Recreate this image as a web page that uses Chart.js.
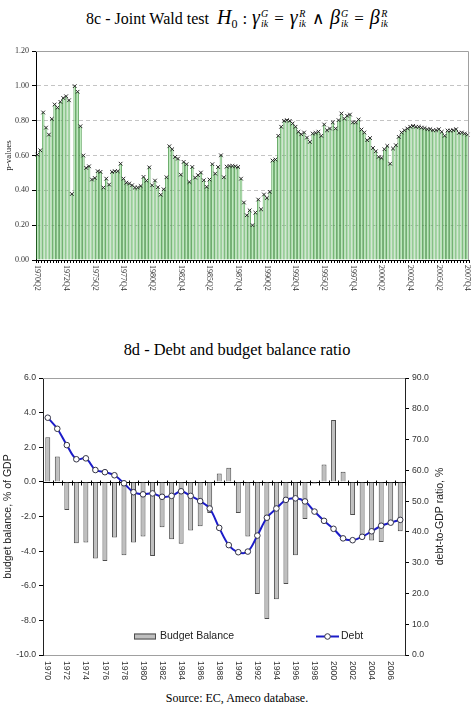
<!DOCTYPE html>
<html>
<head>
<meta charset="utf-8">
<script src="https://cdn.jsdelivr.net/npm/chart.js@4.4.0/dist/chart.umd.min.js"></script>
<style>
  html, body { margin: 0; padding: 0; background: #fff; }
  #page { position: relative; width: 474px; height: 712px; overflow: hidden; }
  canvas { position: absolute; left: 0; }
  .ttl { position: absolute; left: 0; width: 474px; text-align: center; white-space: nowrap;
         font-family: "Liberation Serif", "Times New Roman", serif; color: #000; }
  #t1 { top: 6px; font-size: 16px; line-height: 22px; }
  #t1 .m { font-size: 20px; }
  #t1 .s0 { font-size: 12px; vertical-align: -4px; font-style: normal; }
  #t1 .ss { display: inline-flex; flex-direction: column; font-size: 10px; line-height: 10px;
            vertical-align: 7px; font-style: italic; margin-left: 1px; }
  #t1 .op { font-size: 17px; padding: 0 6px; }
  #t1 .col { font-size: 17px; padding: 0 5px; }
  #t2 { top: 342px; font-size: 16.4px; line-height: 16px; }
  #src { top: 692px; font-size: 12px; line-height: 12px; }
</style>
</head>
<body>
<div id="page">
  <div id="t1" class="ttl">8c - Joint Wald test&nbsp; <span class="m"><i>H</i><span class="s0">0</span><span class="col">:</span><i>γ</i><span class="ss"><span>G</span><span>ik</span></span><span class="op">=</span><i>γ</i><span class="ss"><span>R</span><span>ik</span></span><span class="op">∧</span><i>β</i><span class="ss"><span>G</span><span>ik</span></span><span class="op">=</span><i>β</i><span class="ss"><span>R</span><span>ik</span></span></span></div>
  <canvas id="waldChart" width="474" height="310" style="top:0"></canvas>
  <div id="t2" class="ttl">8d - Debt and budget balance ratio</div>
  <canvas id="debtChart" width="474" height="325" style="top:365px"></canvas>
  <div id="src" class="ttl">Source: EC, Ameco database.</div>
</div>

<script>
// ---- 8c: p-values of the joint Wald test, quarterly 1970Q2 .. 2007Q4
const pValues = [
  0.605, 0.63, 0.847, 0.76, 0.72, 0.81, 0.893, 0.875, 0.908, 0.93,
  0.94, 0.917, 0.379, 0.998, 0.966, 0.768, 0.60, 0.529, 0.538, 0.462,
  0.471, 0.51, 0.506, 0.416, 0.467, 0.433, 0.506, 0.51, 0.51, 0.553,
  0.467, 0.444, 0.439, 0.429, 0.416, 0.416, 0.425, 0.477, 0.456, 0.532,
  0.429, 0.456, 0.418, 0.375, 0.406, 0.475, 0.653, 0.636, 0.592, 0.582,
  0.49, 0.563, 0.55, 0.448, 0.534, 0.473, 0.487, 0.502, 0.458, 0.42,
  0.462, 0.55, 0.496, 0.534, 0.601, 0.475, 0.536, 0.54, 0.54, 0.538,
  0.534, 0.467, 0.33, 0.257, 0.285, 0.20, 0.272, 0.347, 0.291, 0.376,
  0.356, 0.391, 0.571, 0.577, 0.713, 0.765, 0.799, 0.803, 0.799, 0.784,
  0.765, 0.736, 0.722, 0.732, 0.703, 0.678, 0.726, 0.73, 0.737, 0.713,
  0.778, 0.745, 0.755, 0.79, 0.755, 0.803, 0.841, 0.812, 0.828, 0.835,
  0.79, 0.79, 0.807, 0.749, 0.732, 0.688, 0.70, 0.643, 0.624, 0.592,
  0.586, 0.636, 0.655, 0.553, 0.64, 0.659, 0.707, 0.732, 0.745, 0.755,
  0.765, 0.77, 0.765, 0.765, 0.76, 0.757, 0.751, 0.751, 0.745, 0.745,
  0.751, 0.736, 0.713, 0.743, 0.743, 0.745, 0.751, 0.73, 0.732, 0.726,
  0.72
];
const firstYear = 1970;
const firstQuarter = 2;
const quarterLabels = [];
for (let i = 0; i < pValues.length; i++) {
  const q = firstQuarter - 1 + i;
  quarterLabels.push((firstYear + Math.floor(q / 4)) + 'Q' + (q % 4 + 1));
}
const quarterLabelStep = 10;

// ---- 8d: budget balance (% of GDP) and debt-to-GDP ratio (%)
const years = ['1970', '1971', '1972', '1973', '1974', '1975', '1976', '1977', '1978', '1979',
  '1980', '1981', '1982', '1983', '1984', '1985', '1986', '1987', '1988', '1989',
  '1990', '1991', '1992', '1993', '1994', '1995', '1996', '1997', '1998', '1999',
  '2000', '2001', '2002', '2003', '2004', '2005', '2006', '2007'];
const budgetBalance = [2.58, 1.46, -1.62, -3.55, -3.5, -4.43, -4.57, -3.22, -4.24, -3.5,
  -3.16, -4.28, -2.62, -3.31, -3.58, -2.81, -2.56, -1.8, 0.48, 0.81,
  -1.8, -3.15, -6.48, -7.92, -6.78, -5.9, -4.24, -2.14, -0.1, 1.0,
  3.58, 0.58, -1.91, -3.31, -3.39, -3.47, -2.5, -2.85];
const debtRatio = [77.1, 73.5, 68.2, 63.6, 63.9, 60.1, 59.4, 58.4, 55.8, 52.9,
  52.2, 52.5, 51.4, 51.7, 53.2, 51.7, 50.0, 47.6, 41.3, 35.7,
  33.4, 33.6, 38.8, 44.6, 47.6, 50.4, 50.9, 49.9, 46.6, 43.6,
  41.0, 37.9, 37.3, 38.4, 40.2, 42.0, 43.0, 43.9];
const yearLabelStep = 2;

const serif = '"Liberation Serif", "Times New Roman", serif';
const sans = '"Liberation Sans", Arial, sans-serif';

// draws category labels turned clockwise, as in the original spreadsheet chart
function drawTurnedLabels(chart, labels, step, font, gap) {
  const { ctx, chartArea, scales: { x } } = chart;
  ctx.save();
  ctx.fillStyle = '#333';
  ctx.font = font;
  ctx.textAlign = 'left';
  ctx.textBaseline = 'middle';
  x.ticks.forEach((t, i) => {
    if (i % step) return;
    ctx.save();
    ctx.translate(x.getPixelForTick(i), chartArea.bottom + gap);
    ctx.rotate(Math.PI / 2);
    ctx.fillText(labels[i], 0, 0);
    ctx.restore();
  });
  ctx.restore();
}

const waldExtras = {
  id: 'waldExtras',
  afterDraw(chart) {
    const { ctx, chartArea: a } = chart;
    ctx.save();
    ctx.strokeStyle = '#a0a0a0';
    ctx.lineWidth = 1;
    ctx.beginPath();
    ctx.moveTo(a.left, a.top + 0.5);
    ctx.lineTo(a.right - 0.5, a.top + 0.5);
    ctx.lineTo(a.right - 0.5, a.bottom);
    ctx.stroke();
    ctx.restore();
    drawTurnedLabels(chart, quarterLabels, quarterLabelStep, '8px ' + serif, 5);
  }
};

new Chart(document.getElementById('waldChart'), {
  data: {
    labels: quarterLabels,
    datasets: [
      {
        type: 'line',
        data: pValues,
        showLine: false,
        pointStyle: 'crossRot',
        pointRadius: 2.6,
        pointBorderColor: '#2a2a2a',
        pointBorderWidth: 1,
        order: 0
      },
      {
        type: 'bar',
        data: pValues,
        backgroundColor: '#b8eab8',
        borderColor: '#2e862e',
        borderWidth: { left: 0.8, right: 0.8, top: 0.8, bottom: 0 },
        barPercentage: 0.88,
        categoryPercentage: 1.0,
        order: 1
      }
    ]
  },
  options: {
    responsive: false,
    animation: false,
    events: [],
    layout: { padding: { top: 51, right: 1, left: 0, bottom: 0 } },
    plugins: { legend: { display: false }, tooltip: { enabled: false } },
    scales: {
      x: {
        ticks: { display: false },
        grid: { display: true, drawOnChartArea: false, tickLength: 3, tickColor: '#000', offset: true },
        border: { color: '#000' },
        afterFit(scale) { scale.height = 50; }
      },
      y: {
        min: 0,
        max: 1.2,
        ticks: {
          stepSize: 0.2,
          color: '#333',
          padding: 3,
          font: { family: serif, size: 8 },
          callback: (v) => v.toFixed(2)
        },
        grid: { color: '#c4c4c4', tickColor: '#000', tickLength: 4, tickBorderDash: [] },
        border: { color: '#000', dash: [4, 3] },
        title: {
          display: true,
          text: 'p-values',
          color: '#222',
          font: { family: serif, size: 9 },
          padding: { top: 3, bottom: 0 }
        },
        afterFit(scale) { scale.width = 36; }
      }
    }
  },
  plugins: [waldExtras]
});

const debtExtras = {
  id: 'debtExtras',
  beforeDatasetsDraw(chart) {
    const { ctx, chartArea: a, scales: { x, y } } = chart;
    const y0 = Math.round(y.getPixelForValue(0)) + 0.5;
    const half = (x.getPixelForTick(1) - x.getPixelForTick(0)) / 2;
    ctx.save();
    ctx.strokeStyle = '#a0a0a0';
    ctx.lineWidth = 1;
    ctx.beginPath();
    ctx.moveTo(a.left, a.top + 0.5);
    ctx.lineTo(a.right, a.top + 0.5);
    ctx.stroke();
    ctx.strokeStyle = '#000';
    ctx.beginPath();
    ctx.moveTo(a.left, y0);
    ctx.lineTo(a.right, y0);
    x.ticks.forEach((t, i) => {
      const px = Math.round(x.getPixelForTick(i) + half) + 0.5;
      ctx.moveTo(px, y0 - 2);
      ctx.lineTo(px, y0 + 3);
    });
    ctx.stroke();
    ctx.restore();
  },
  afterDraw(chart) {
    const { ctx, chartArea: a } = chart;
    drawTurnedLabels(chart, years, yearLabelStep, '8.6px ' + sans, 6);
    ctx.save();
    ctx.fillStyle = '#222';
    ctx.font = '10.5px ' + sans;
    // right axis title, read from bottom to top
    ctx.save();
    ctx.translate(440, (a.top + a.bottom) / 2);
    ctx.rotate(-Math.PI / 2);
    ctx.textAlign = 'center';
    ctx.textBaseline = 'middle';
    ctx.fillText('debt-to-GDP ratio, %', 0, 0);
    ctx.restore();
    // legend inside the plot
    const ly = a.bottom - 18.5;
    ctx.textBaseline = 'middle';
    ctx.textAlign = 'left';
    ctx.fillStyle = '#bfbfbf';
    ctx.fillRect(134, ly - 3, 22, 6);
    ctx.strokeStyle = '#4d4d4d';
    ctx.lineWidth = 1;
    ctx.strokeRect(134.5, ly - 2.5, 21, 5);
    ctx.fillStyle = '#222';
    ctx.fillText('Budget Balance', 160, ly);
    ctx.strokeStyle = '#1c1cc8';
    ctx.lineWidth = 2;
    ctx.beginPath();
    ctx.moveTo(316, ly);
    ctx.lineTo(339, ly);
    ctx.stroke();
    ctx.beginPath();
    ctx.arc(327.5, ly, 2.8, 0, Math.PI * 2);
    ctx.fillStyle = '#fff';
    ctx.fill();
    ctx.strokeStyle = '#334';
    ctx.lineWidth = 1;
    ctx.stroke();
    ctx.fillStyle = '#222';
    ctx.fillText('Debt', 341, ly);
    ctx.restore();
  }
};

new Chart(document.getElementById('debtChart'), {
  data: {
    labels: years,
    datasets: [
      {
        type: 'line',
        label: 'Debt',
        data: debtRatio,
        yAxisID: 'y1',
        borderColor: '#1c1cc8',
        borderWidth: 2,
        tension: 0.35,
        pointRadius: 2.8,
        pointBackgroundColor: '#fff',
        pointBorderColor: '#334',
        pointBorderWidth: 1,
        order: 0
      },
      {
        type: 'bar',
        label: 'Budget Balance',
        data: budgetBalance,
        yAxisID: 'y',
        backgroundColor: '#bfbfbf',
        borderColor: '#4d4d4d',
        borderWidth: 1,
        barPercentage: 0.52,
        categoryPercentage: 1.0,
        order: 1
      }
    ]
  },
  options: {
    responsive: false,
    animation: false,
    events: [],
    layout: { padding: { top: 13, right: 0, left: 0, bottom: 0 } },
    plugins: { legend: { display: false }, tooltip: { enabled: false } },
    scales: {
      x: {
        ticks: { display: false },
        grid: { display: false },
        border: { color: '#a0a0a0' },
        afterFit(scale) { scale.height = 35; }
      },
      y: {
        position: 'left',
        min: -10,
        max: 6,
        ticks: {
          stepSize: 2,
          color: '#333',
          padding: 3,
          font: { family: sans, size: 8.7 },
          callback: (v) => v.toFixed(1)
        },
        grid: { drawOnChartArea: false, tickColor: '#000', tickLength: 4 },
        border: { color: '#222' },
        title: {
          display: true,
          text: 'budget balance, % of GDP',
          color: '#222',
          font: { family: sans, size: 10.5 },
          padding: { top: 2, bottom: 0 }
        },
        afterFit(scale) { scale.width = 43; }
      },
      y1: {
        position: 'right',
        min: 0,
        max: 90,
        ticks: {
          stepSize: 10,
          color: '#333',
          padding: 3,
          font: { family: sans, size: 8.7 },
          callback: (v) => v.toFixed(1)
        },
        grid: { drawOnChartArea: false, tickColor: '#000', tickLength: 4 },
        border: { color: '#222' },
        afterFit(scale) { scale.width = 69; }
      }
    }
  },
  plugins: [debtExtras]
});
</script>
</body>
</html>
